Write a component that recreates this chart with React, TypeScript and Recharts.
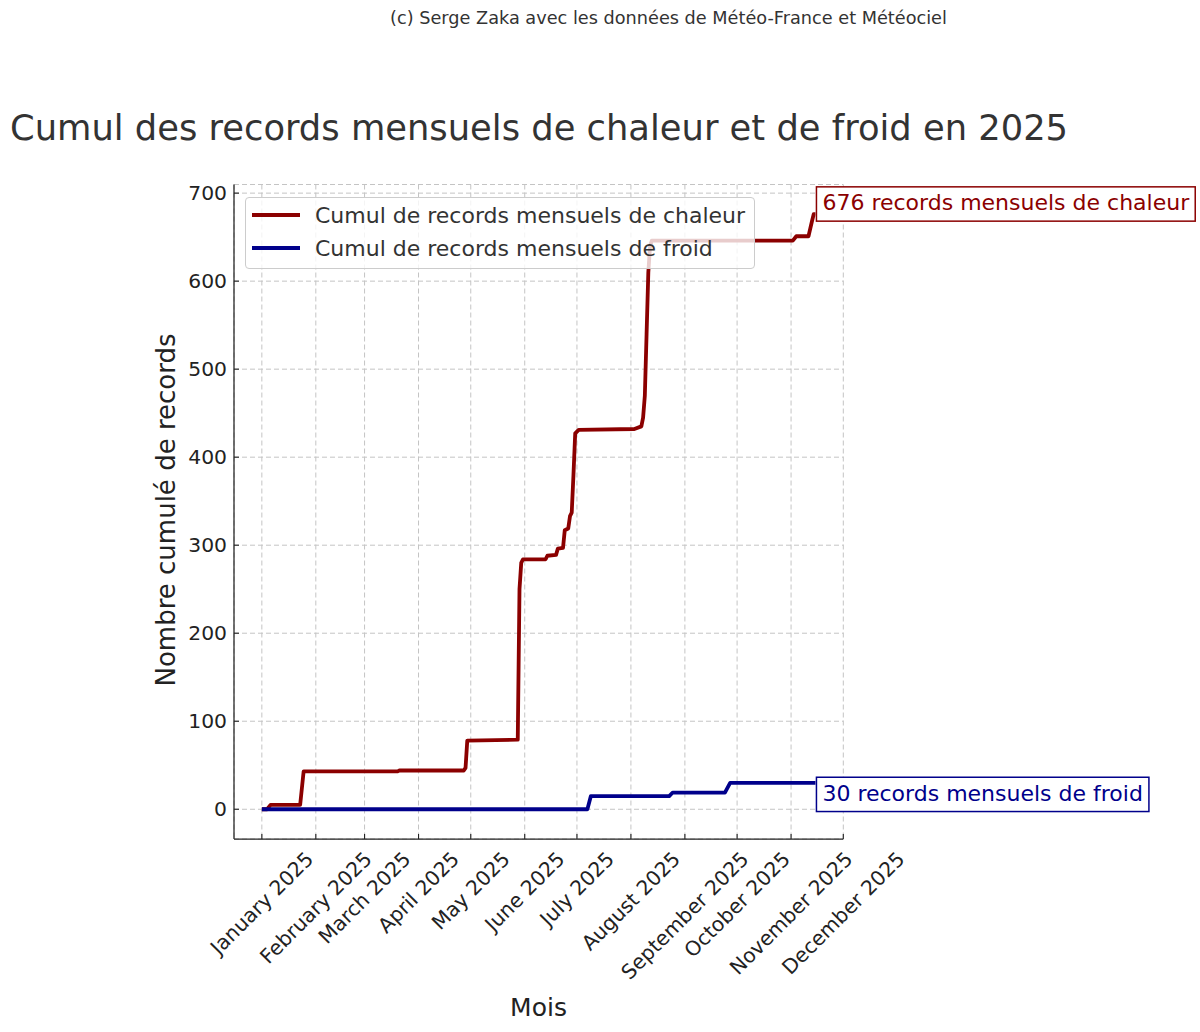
import {
  CartesianGrid,
  Legend,
  Line,
  LineChart,
  ReferenceDot,
  XAxis,
  YAxis,
} from "recharts";

const FONT = '"DejaVu Sans", Verdana, sans-serif';

// day of year (0 = 1 Jan 2025) and running total of records
const chaleurDays = [0, 3, 5, 22, 24, 78, 79, 116, 117, 118, 147, 148, 149, 150, 163, 164, 169, 170, 173, 174, 176, 177, 178, 179, 180, 182, 214, 218, 219, 220, 221, 222, 223, 224, 305, 307, 314, 316, 317, 318];
const chaleurValues = [0, 0, 5, 5, 43, 43, 44, 44, 47, 78, 79, 250, 280, 284, 284, 288, 289, 296, 297, 317, 319, 333, 337, 380, 427, 431, 432, 435, 445, 470, 540, 610, 640, 646, 646, 651, 651, 668, 676, 676];

const froidDays = [0, 187, 189, 234, 236, 266, 269, 318];
const froidValues = [0, 0, 15, 15, 19, 19, 30, 30];

const monthTicks = [0, 31, 59, 90, 120, 151, 181, 212, 243, 273, 304, 334];
const monthLabels = [
  "January 2025",
  "February 2025",
  "March 2025",
  "April 2025",
  "May 2025",
  "June 2025",
  "July 2025",
  "August 2025",
  "September 2025",
  "October 2025",
  "November 2025",
  "December 2025",
];
const valueTicks = [0, 100, 200, 300, 400, 500, 600, 700];

const chaleurData = chaleurDays.map((day, i) => ({ day, value: chaleurValues[i] }));
const froidData = froidDays.map((day, i) => ({ day, value: froidValues[i] }));

const lastChaleur = chaleurData[chaleurData.length - 1];
const lastFroid = froidData[froidData.length - 1];

const RED = "#8b0000";
const BLUE = "#00008b";
const TEXT = "#333333";
const TICK = "#222222";

const measureCtx =
  typeof document !== "undefined" ? document.createElement("canvas").getContext("2d") : null;

function textWidth(s: string, size: number) {
  if (!measureCtx) return s.length * size * 0.6;
  measureCtx.font = `${size}px ${FONT}`;
  return measureCtx.measureText(s).width;
}

function MonthTick(props: any) {
  const { x, y, payload } = props;
  const idx = monthTicks.indexOf(payload.value);
  const label = monthLabels[idx] ?? "";
  const size = 20.3;
  const len = textWidth(label, size);
  const cy = y + 8 + (len + size * 1.164) / (2 * Math.SQRT2);
  return (
    <g>
      <line x1={x} y1={y} x2={x} y2={y - 5} stroke="#222" strokeWidth={1.1} />
      <text
        x={x}
        y={cy}
        textAnchor="middle"
        dominantBaseline="central"
        transform={`rotate(-45 ${x} ${cy})`}
        fontSize={size}
        fontFamily={FONT}
        fill={TICK}
      >
        {label}
      </text>
    </g>
  );
}

function ValueTick(props: any) {
  const { x, y, payload } = props;
  return (
    <g>
      <line x1={x} y1={y} x2={x + 5} y2={y} stroke="#222" strokeWidth={1.1} />
      <text
        x={x - 7}
        y={y}
        textAnchor="end"
        dominantBaseline="central"
        fontSize={20.3}
        fontFamily={FONT}
        fill={TICK}
      >
        {payload.value}
      </text>
    </g>
  );
}

function EndLabel({
  cx,
  cy,
  text,
  color,
  above,
}: {
  cx: number;
  cy: number;
  text: string;
  color: string;
  above: boolean;
}) {
  const w = textWidth(text, 22) + 12;
  const top = above ? cy - 27.4 : cy - 5.6;
  return (
    <g>
      <rect x={cx + 1} y={top} width={w} height={34.3} fill="#fff" stroke={color} strokeWidth={1.5} />
      <text x={cx + 7} y={top + 23.3} fontSize={22} fontFamily={FONT} fill={color}>
        {text}
      </text>
    </g>
  );
}

function LegendBox({ payload }: any) {
  return (
    <div
      style={{
        boxSizing: "border-box",
        width: 510,
        height: 72,
        paddingTop: 1,
        background: "rgba(255,255,255,0.8)",
        border: "1px solid #cccccc",
        borderRadius: 4,
        fontFamily: FONT,
      }}
    >
      {(payload || []).map((entry: any) => (
        <div key={entry.value} style={{ display: "flex", alignItems: "center", height: 33 }}>
          <span
            style={{
              display: "inline-block",
              width: 48,
              height: 3.8,
              marginLeft: 6,
              background: entry.color,
            }}
          />
          <span style={{ marginLeft: 15, fontSize: 22, color: TEXT, whiteSpace: "nowrap" }}>
            {entry.value}
          </span>
        </div>
      ))}
    </div>
  );
}

export default function App() {
  return (
    <div
      style={{
        position: "absolute",
        left: 0,
        top: 0,
        width: 1200,
        height: 1032,
        background: "#fff",
        fontFamily: FONT,
      }}
    >
      <LineChart
        width={1200}
        height={1032}
        margin={{ top: 184.5, right: 356.7, bottom: 163, left: 174 }}
      >
        <CartesianGrid strokeDasharray="5 3" stroke="#c4c4c4" strokeWidth={1} />
        <XAxis
          type="number"
          dataKey="day"
          domain={[-16, 334]}
          allowDataOverflow
          ticks={monthTicks}
          interval={0}
          tick={(p: any) => <MonthTick {...p} />}
          tickLine={false}
          tickSize={0}
          tickMargin={0}
          height={30}
          axisLine={{ stroke: "#222", strokeWidth: 1.25 }}
        />
        <YAxis
          type="number"
          domain={[-33.8, 709.8]}
          allowDataOverflow
          ticks={valueTicks}
          interval={0}
          tick={(p: any) => <ValueTick {...p} />}
          tickLine={false}
          tickSize={0}
          tickMargin={0}
          width={60}
          axisLine={{ stroke: "#222", strokeWidth: 1.25 }}
        />
        <Line
          data={chaleurData}
          dataKey="value"
          name="Cumul de records mensuels de chaleur"
          type="linear"
          stroke={RED}
          strokeWidth={3.8}
          strokeLinejoin="round"
          dot={false}
          activeDot={false}
          isAnimationActive={false}
        />
        <Line
          data={froidData}
          dataKey="value"
          name="Cumul de records mensuels de froid"
          type="linear"
          stroke={BLUE}
          strokeWidth={3.8}
          strokeLinejoin="round"
          dot={false}
          activeDot={false}
          isAnimationActive={false}
        />
        <ReferenceDot
          x={lastChaleur.day}
          y={lastChaleur.value}
          r={0}
          ifOverflow="visible"
          shape={(p: any) => (
            <EndLabel
              cx={p.cx}
              cy={p.cy}
              text={`${lastChaleur.value} records mensuels de chaleur`}
              color={RED}
              above
            />
          )}
        />
        <ReferenceDot
          x={lastFroid.day}
          y={lastFroid.value}
          r={0}
          ifOverflow="visible"
          shape={(p: any) => (
            <EndLabel
              cx={p.cx}
              cy={p.cy}
              text={`${lastFroid.value} records mensuels de froid`}
              color={BLUE}
              above={false}
            />
          )}
        />
        <Legend
          layout="horizontal"
          verticalAlign="middle"
          align="center"
          content={(p: any) => <LegendBox {...p} />}
          wrapperStyle={{ left: 245, top: 196.7, width: 510, height: 72 }}
        />
      </LineChart>
      <svg
        width={1200}
        height={1032}
        style={{ position: "absolute", left: 0, top: 0, pointerEvents: "none" }}
      >
        <text x={668.5} y={24} textAnchor="middle" fontSize={17.7} fontFamily={FONT} fill={TEXT}>
          (c) Serge Zaka avec les données de Météo-France et Météociel
        </text>
        <text x={10} y={140} fontSize={35.3} fontFamily={FONT} fill={TEXT}>
          Cumul des records mensuels de chaleur et de froid en 2025
        </text>
        <text
          transform="translate(175 510) rotate(-90)"
          textAnchor="middle"
          fontSize={26}
          fontFamily={FONT}
          fill={TICK}
        >
          Nombre cumulé de records
        </text>
        <text x={538.5} y={1015.7} textAnchor="middle" fontSize={25} fontFamily={FONT} fill={TICK}>
          Mois
        </text>
      </svg>
    </div>
  );
}
